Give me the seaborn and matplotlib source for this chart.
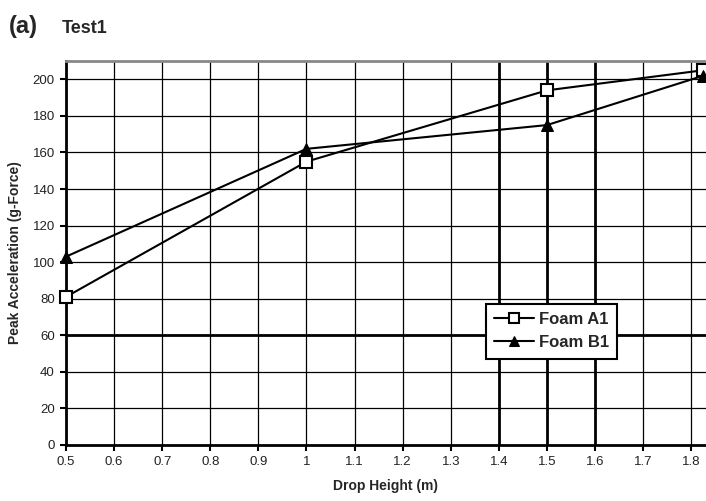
import matplotlib
matplotlib.use("Agg")
import matplotlib.pyplot as plt
import seaborn as sns
import pandas as pd

heights = [0.5, 1.0, 1.5, 1.825]
foam_a1 = [81, 155, 194, 205]
foam_b1 = [103, 162, 175, 202]
series_names = ["Foam A1", "Foam B1"]
x_ticks = [0.5, 0.6, 0.7, 0.8, 0.9, 1.0, 1.1, 1.2, 1.3, 1.4, 1.5, 1.6, 1.7, 1.8]
x_tick_labels = ["0.5", "0.6", "0.7", "0.8", "0.9", "1", "1.1", "1.2", "1.3", "1.4", "1.5", "1.6", "1.7", "1.8"]
y_ticks = [0, 20, 40, 60, 80, 100, 120, 140, 160, 180, 200]

sns.set_style("white")
plt.rcParams['font.family'] = ['Liberation Sans', 'DejaVu Sans']

df = pd.DataFrame({
    "x": heights * 2,
    "y": foam_a1 + foam_b1,
    "series": [series_names[0]] * len(heights) + [series_names[1]] * len(heights),
})

fig = plt.figure(figsize=(7.06, 5.01), dpi=100)
ax = fig.add_axes([0.0935, 0.112, 0.906, 0.766])

# grid
for xt in x_ticks:
    lw = 2.0 if xt in (1.4, 1.5, 1.6) else 0.9
    ax.axvline(xt, color="black", lw=lw, zorder=0)
for yt in y_ticks[1:]:
    lw = 2.0 if yt == 60 else 0.9
    ax.axhline(yt, color="black", lw=lw, zorder=0)

sns.lineplot(data=df[df.series == series_names[0]], x="x", y="y", ax=ax,
             color="black", lw=1.5, marker="s", markersize=8,
             markerfacecolor="white", markeredgecolor="black", markeredgewidth=1.5,
             label=series_names[0], clip_on=False, zorder=5)
sns.lineplot(data=df[df.series == series_names[1]], x="x", y="y", ax=ax,
             color="black", lw=1.5, marker="^", markersize=9,
             markerfacecolor="black", markeredgecolor="black",
             label=series_names[1], clip_on=False, zorder=5)

ax.set_xlim(0.5, 1.83)
ax.set_ylim(0, 210)
ax.set_xticks(x_ticks)
ax.set_xticklabels(x_tick_labels)
ax.set_yticks(y_ticks)
ax.tick_params(axis="both", direction="out", length=4, width=1.5, labelsize=9.5,
               bottom=True, left=True, colors="black", pad=4)
ax.tick_params(axis="both", labelcolor="#222222")

for side in ["left", "bottom"]:
    ax.spines[side].set_linewidth(2)
    ax.spines[side].set_color("black")
ax.spines["top"].set_color("#888888")
ax.spines["top"].set_linewidth(2)
ax.spines["right"].set_visible(False)

ax.set_xlabel("Drop Height (m)", fontsize=10, fontweight="bold", labelpad=8)
ax.set_ylabel("Peak Acceleration (g-Force)", fontsize=10, fontweight="bold", labelpad=8)

leg = ax.legend(loc="upper left", bbox_to_anchor=(0.643, 0.39), frameon=True,
                fancybox=False, edgecolor="black", framealpha=1,
                prop={"weight": "bold", "size": 12}, handlelength=2.4,
                borderpad=0.5, labelspacing=0.5, handletextpad=0.3, markerscale=0.85)
leg.get_frame().set_linewidth(1.5)

fig.text(0.012, 0.935, "(a)", fontsize=17, fontweight="bold")
fig.text(0.087, 0.935, "Test1", fontsize=13, fontweight="bold")

fig.savefig("out.png", dpi=100)
